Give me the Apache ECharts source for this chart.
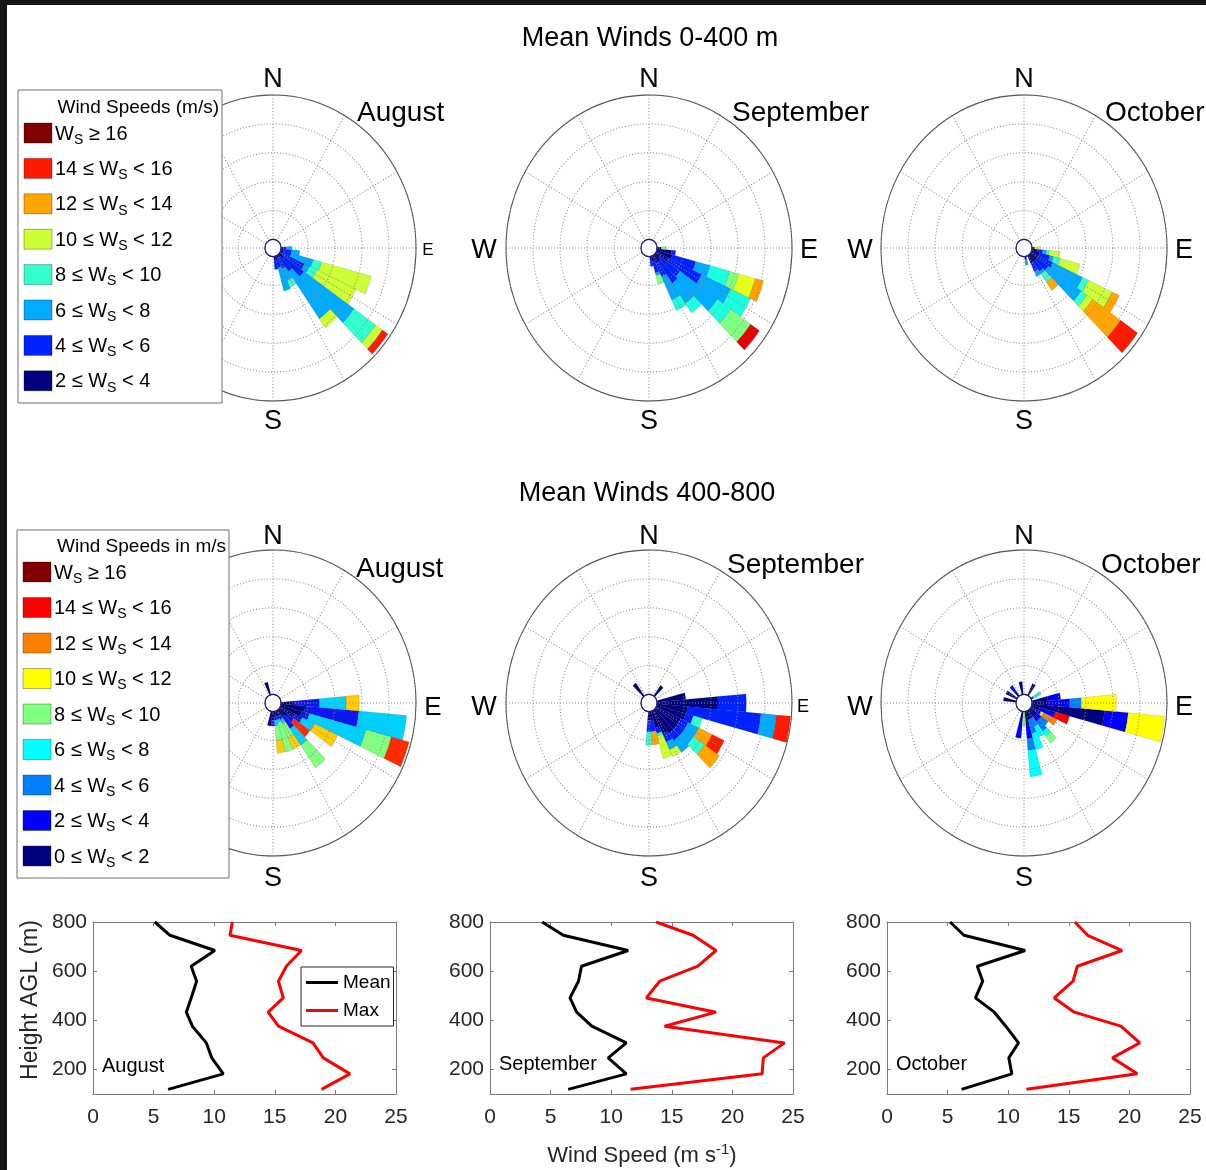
<!DOCTYPE html>
<html>
<head>
<meta charset="utf-8">
<script src="https://cdn.jsdelivr.net/npm/echarts@6/dist/echarts.min.js"></script>
<style>
  html, body { margin: 0; padding: 0; width: 1206px; height: 1170px; overflow: hidden; background: #151515; }
  #paper { position: absolute; left: 7px; top: 5px; right: 0; bottom: 0; background: #fff; }
  .row { position: absolute; left: 0; width: 1206px; height: 330px; transform: scaleY(1.07); transform-origin: 50% 50%; }
  #main { position: absolute; left: 0; top: 0; width: 1206px; height: 1170px; }
</style>
</head>
<body>
<div id="paper"></div>
<div id="row1" class="row" style="top:83px"></div>
<div id="row2" class="row" style="top:538px"></div>
<div id="main"></div>
<script>
  var FONT = '"Liberation Sans", Arial, Helvetica, sans-serif';

  // direction bins (deg from north, clockwise)
  var dirs = ['0', '10', '20', '30', '40', '50', '60', '70', '80', '90', '100', '110',
    '120', '130', '140', '150', '160', '170', '180', '190', '200', '210', '220', '230',
    '240', '250', '260', '270', '280', '290', '300', '310', '320', '330', '340', '350'];

  // wind roses: [direction, [length of each speed class, slowest first]] in ring units
  var aug1 = [[90, [0.1, 0.1, 0.2]], [100, [0.1, 0.3, 0.3]],
    [110, [0.1, 0.3, 0.85, 0.32, 1.9]], [120, [0.1, 0.9, 0.2, 0.3, 1.6]],
    [130, [0.2, 0.9, 2.27, 0.98, 0.3, 0, 0.25]], [140, [0.1, 0.6, 2.0, 0, 0.37]],
    [150, [0.1, 0.4, 0.45, 0.25]], [160, [0.1, 0.3, 0.85]], [170, [0.1, 0.35]]];
  var sep1 = [[90, [0.15, 0, 0, 0, 0.2]], [100, [0.55, 0.15]],
    [110, [0.6, 0.9, 0.55, 0.75, 0.34, 0.64, 0.32]], [120, [0.5, 1.35, 1.2, 0.8]],
    [130, [0.2, 0.9, 1.7, 0.6, 0.9, 0, 0, 0.4]], [140, [0.3, 0.9, 0.85, 0.4]],
    [150, [0.3, 0.5, 0.9, 0.4]], [160, [0.2, 0.4, 0.1, 0, 0.3]], [170, [0.1, 0.25]]];
  var oct1 = [[90, [0.1, 0, 0, 0, 0.2]], [100, [0.2, 0.2, 0.15, 0.1, 0.4]],
    [110, [0.3, 0.4, 0.15, 0.25, 0.75]], [120, [0.3, 0.6, 1.2, 0.25, 0.95, 0.3]],
    [130, [0.3, 0.5, 1.5, 0.25, 0.25, 1.27, 0.77]], [140, [0.3, 0.4, 0.1, 0.35, 0, 0.35]],
    [150, [0.3, 0.3, 0.2]], [170, [0.1, 0, 0.2]]];
  var aug2 = [[340, [0.46]], [90, [0.5, 0.93, 0.99, 0, 0.48]], [100, [0.9, 2.0, 1.77]],
    [110, [0.8, 0.3, 2.17, 0.97, 0, 0.68]], [120, [0.6, 0.3, 0.5, 0, 0.95]],
    [130, [0.35, 0.3, 0, 0, 0, 0.72]], [140, [0.3, 0.5, 0.7, 0.95]],
    [150, [0.2, 0.15, 0.15, 0.54, 0.44]], [160, [0.2, 0.1, 0.1, 1.07]],
    [170, [0.15, 0.15, 0.2, 0.52, 0.43]], [180, [0.3, 0.2]], [190, [0.5]]];
  var sep2 = [[320, [0.55]], [40, [0.45]], [80, [1.07]], [90, [2.26, 1.05]],
    [100, [1.13, 2.74, 0.57, 0, 0, 0, 0.53]], [110, [1.1, 0.3, 0, 0.35]],
    [120, [1.0, 0.3, 0.44, 0, 0, 0.54, 0.5]], [130, [1.0, 0.3, 0.42, 0.5, 0, 0.67]],
    [140, [1.0, 0.3, 0.5]], [150, [0.9, 0.3, 0.3, 0, 0.26]], [160, [0.6, 0.2, 0, 0.1, 0.8]],
    [170, [0.3, 0.4, 0, 0, 0, 0.46]], [180, [0.3, 0.4, 0, 0.46]]];
  var oct2 = [[280, [0.47]], [300, [0.45]], [320, [0.2, 0.25]], [350, [0.45]], [30, [0.45]],
    [60, [0.1, 0, 0, 0.3]], [80, [0.6, 0.47]], [90, [0.6, 0.8, 0.43, 0, 0, 1.3]],
    [100, [2.7, 0.88, 0, 0, 0, 1.35]], [110, [0.3, 0.6, 0, 0, 0, 0, 0, 0.55]],
    [120, [0.2, 0.2, 0, 0, 0, 0.1, 0.55]], [130, [0.3, 0.2, 0.3]],
    [140, [0.3, 0.2, 0.4, 0.2, 0.3]], [150, [0.3, 0, 0.3, 0.4]], [160, [0.3, 0, 0.5, 0.58]],
    [170, [0.5, 0.45, 0.4, 0.92]], [180, [0, 0, 0, 0, 0.5]], [190, [0.3, 0.63]]];

  // speed-class colours used by each rose
  var jet8 = ['#000080', '#0022ff', '#00aaff', '#33ffcc', '#ccff33', '#ffa500', '#ff1a00', '#800000'];
  var sep1Colors = ['#000080', '#0022ff', '#00aaff', '#1affe0', '#80ff80', '#e6ff1a', '#ffa000', '#e60000'];
  var aug2Colors = ['#000078', '#0a18f0', '#00d0ff', '#80ff80', '#ffcc00', '#ff2a00'];
  var oct2Colors = ['#000080', '#0000ff', '#0080ff', '#00ffff', '#80ff80', '#ffff00', '#ff8000', '#ff0000'];

  // legends
  var classes1 = ['W{s|S} ≥ 16', '14 ≤ W{s|S} < 16', '12 ≤ W{s|S} < 14', '10 ≤ W{s|S} < 12',
    '8 ≤ W{s|S} < 10', '6 ≤ W{s|S} < 8', '4 ≤ W{s|S} < 6', '2 ≤ W{s|S} < 4'];
  var classColors1 = ['#800000', '#ff1a00', '#ffa500', '#ccff33', '#33ffcc', '#00aaff', '#0022ff', '#000080'];
  var classes2 = ['W{s|S} ≥ 16', '14 ≤ W{s|S} < 16', '12 ≤ W{s|S} < 14', '10 ≤ W{s|S} < 12',
    '8 ≤ W{s|S} < 10', '6 ≤ W{s|S} < 8', '4 ≤ W{s|S} < 6', '2 ≤ W{s|S} < 4', '0 ≤ W{s|S} < 2'];
  var classColors2 = ['#800000', '#ff0000', '#ff8000', '#ffff00', '#80ff80', '#00ffff', '#0080ff', '#0000ff', '#000080'];

  // vertical profiles
  var heights = [800, 746, 684, 620, 559, 491, 433, 376, 308, 247, 182, 119];
  var augMean = [5.1, 6.35, 10.05, 8.1, 8.55, 8.1, 7.7, 8.2, 9.35, 9.8, 10.75, 6.2];
  var augMax = [11.5, 11.3, 17.2, 15.95, 15.3, 15.7, 14.45, 15.3, 18.15, 19.0, 21.2, 18.85];
  var sepMean = [4.3, 6.05, 11.4, 7.55, 7.3, 6.6, 7.15, 8.4, 11.25, 9.75, 11.25, 6.45];
  var sepMax = [13.7, 16.75, 18.65, 17.15, 14.0, 12.9, 18.65, 14.4, 24.3, 22.55, 22.45, 11.6];
  var octMean = [5.2, 6.35, 11.4, 7.45, 7.9, 7.3, 8.85, 9.8, 10.85, 10.05, 10.3, 6.15];
  var octMax = [15.5, 16.55, 19.4, 15.7, 15.35, 13.8, 15.45, 19.3, 20.85, 18.6, 20.65, 11.5];

  var roseX = [273, 649, 1024];

  function classData(list, k) {
    var out = dirs.map(function () { return null; });
    list.forEach(function (b) {
      var v = b[1][k];
      if (v) out[dirs.indexOf(String(b[0]))] = v;
    });
    return out;
  }

  function roseOption(roses) {
    var polar = [], angleAxis = [], radiusAxis = [], series = [];
    roses.forEach(function (r, i) {
      var c = [roseX[i], 165];
      var g = i * 3;
      polar.push({ center: c, radius: [8, 143] }, { center: c, radius: [8, 143] }, { center: c, radius: [0, 8] });
      // dotted grid, drawn over the bars as in the original
      angleAxis.push({
        polarIndex: g, type: 'value', min: 0, max: 360, interval: 30, startAngle: 90, z: 3,
        axisLine: { show: true, lineStyle: { color: '#555', width: 1 } },
        axisTick: { show: false }, axisLabel: { show: false },
        splitLine: { show: true, lineStyle: { color: '#8c8c8c', width: 1, type: [1, 2] } }
      });
      radiusAxis.push({
        polarIndex: g, type: 'value', min: 0, max: 5, interval: 1, z: 3,
        axisLine: { show: false }, axisTick: { show: false }, axisLabel: { show: false },
        splitLine: { show: true, lineStyle: { color: '#8c8c8c', width: 1, type: [1, 2] } }
      });
      angleAxis.push({
        polarIndex: g + 1, type: 'category', data: dirs, startAngle: 95,
        axisLine: { show: false }, axisTick: { show: false }, axisLabel: { show: false }, splitLine: { show: false }
      });
      radiusAxis.push({ polarIndex: g + 1, type: 'value', min: 0, max: 5, show: false });
      angleAxis.push({
        polarIndex: g + 2, type: 'value', min: 0, max: 360, z: 4,
        axisLine: { show: true, lineStyle: { color: '#1c1c7a', width: 1 } },
        axisTick: { show: false }, axisLabel: { show: false }, splitLine: { show: false }
      });
      radiusAxis.push({ polarIndex: g + 2, type: 'value', min: 0, max: 1, show: false });

      r.colors.forEach(function (col, k) {
        series.push({
          type: 'bar', coordinateSystem: 'polar', polarIndex: g + 1, stack: 'rose' + i,
          barCategoryGap: '0%', silent: true,
          data: classData(r.data, k),
          itemStyle: { color: col, borderColor: 'rgba(0,0,0,0.22)', borderWidth: 0.5 }
        });
      });
    });
    return { animation: false, polar: polar, angleAxis: angleAxis, radiusAxis: radiusAxis, series: series };
  }

  var row1 = echarts.init(document.getElementById('row1'), null, { renderer: 'svg' });
  row1.setOption(roseOption([
    { data: aug1, colors: jet8 }, { data: sep1, colors: sep1Colors }, { data: oct1, colors: jet8 }
  ]));
  var row2 = echarts.init(document.getElementById('row2'), null, { renderer: 'svg' });
  row2.setOption(roseOption([
    { data: aug2, colors: aug2Colors }, { data: sep2, colors: jet8.slice(0, 7) }, { data: oct2, colors: oct2Colors }
  ]));

  // ---------- main layer: profiles, legends, labels ----------
  var gridLeft = [93, 490, 887];
  var profiles = [[augMean, augMax], [sepMean, sepMax], [octMean, octMax]];
  var yTicks = [200, 400, 600, 800];
  var axisGray = '#7a7a7a';

  var grid = [], xAxis = [], yAxis = [], series = [];
  gridLeft.forEach(function (l) {
    grid.push({ left: l, top: 922, width: 303, height: 172 });
  });
  [false, true].forEach(function (second) {
    gridLeft.forEach(function (l, i) {
      xAxis.push({
        gridIndex: i, type: 'value', min: 0, max: 25, interval: 5, position: second ? 'top' : 'bottom',
        axisLine: { show: true, onZero: false, lineStyle: { color: axisGray, width: 1 } },
        axisTick: { show: true, inside: true, length: 4, lineStyle: { color: axisGray } },
        axisLabel: { show: !second, fontSize: 21, color: '#262626', margin: 13, fontFamily: FONT },
        splitLine: { show: false }
      });
      yAxis.push({
        gridIndex: i, type: 'value', min: 100, max: 800, position: second ? 'right' : 'left',
        axisLine: { show: true, onZero: false, lineStyle: { color: axisGray, width: 1 } },
        axisTick: { show: true, inside: true, length: 4, customValues: yTicks, lineStyle: { color: axisGray } },
        axisLabel: {
          show: !second, customValues: yTicks, fontSize: 21, color: '#262626', margin: 6,
          padding: [5, 0, 0, 0], fontFamily: FONT
        },
        splitLine: { show: false }
      });
    });
  });
  profiles.forEach(function (p, i) {
    series.push({
      type: 'line', name: 'Mean', xAxisIndex: i, yAxisIndex: i, symbol: 'none', silent: true,
      data: heights.map(function (h, j) { return [p[0][j], h]; }),
      lineStyle: { color: '#000', width: 3 }, itemStyle: { color: '#000' }
    });
    series.push({
      type: 'line', name: 'Max', xAxisIndex: i, yAxisIndex: i, symbol: 'none', silent: true,
      data: heights.map(function (h, j) { return [p[1][j], h]; }),
      lineStyle: { color: '#ff0000', width: 3 }, itemStyle: { color: '#ff0000' }
    });
  });

  function txt(s, x, y, size, opts) {
    opts = opts || {};
    return {
      type: 'text', x: x, y: y, rotation: opts.rotation || 0, silent: true, z: 10,
      style: {
        text: s, fill: opts.color || '#000', fontSize: size, fontFamily: FONT,
        align: opts.align || 'center', verticalAlign: 'middle', rich: opts.rich
      }
    };
  }

  var subRich = { s: { fontSize: 14, fontFamily: FONT, padding: [12, 0, 0, 0] } };
  function legendBlock(box, title, titleX, labels, colors, firstY, step, swX) {
    var els = [{
      type: 'rect', silent: true, z: 9, shape: box,
      style: { fill: '#fff', stroke: '#6e6e6e', lineWidth: 1 }
    }];
    els.push(txt(title, titleX, firstY - 25, 19, { align: 'right' }));
    labels.forEach(function (lab, i) {
      var y = firstY + i * step;
      els.push({
        type: 'rect', silent: true, z: 10,
        shape: { x: swX, y: y - 10, width: 28, height: 20 },
        style: { fill: colors[i], stroke: 'rgba(0,0,0,0.3)', lineWidth: 1 }
      });
      els.push(txt(lab, swX + 31, y + 1, 20, { align: 'left', rich: subRich }));
    });
    return els;
  }

  var graphic = [];
  graphic = graphic.concat(legendBlock({ x: 18, y: 90, width: 204, height: 313 }, 'Wind Speeds (m/s)', 219,
    classes1, classColors1, 133, 35.4, 24));
  graphic = graphic.concat(legendBlock({ x: 17, y: 530, width: 212, height: 348 }, 'Wind Speeds in m/s', 226,
    classes2, classColors2, 572, 35.5, 23));

  graphic.push(txt('Mean Winds 0-400 m', 650, 39, 27));
  graphic.push(txt('Mean Winds 400-800', 647, 494, 27));

  var compass = [
    ['N', 273, 80, 27], ['N', 649, 80, 27], ['N', 1024, 80, 27],
    ['S', 273, 422, 27], ['S', 649, 422, 27], ['S', 1024, 422, 27],
    ['E', 428, 250, 17], ['E', 809, 251, 27], ['E', 1184, 251, 27],
    ['W', 484, 251, 27], ['W', 860, 251, 27],
    ['N', 273, 537, 27], ['N', 649, 537, 27], ['N', 1024, 537, 27],
    ['S', 273, 879, 27], ['S', 649, 879, 27], ['S', 1024, 879, 27],
    ['E', 433, 708, 26], ['E', 803, 707, 18], ['E', 1184, 708, 27],
    ['W', 484, 708, 27], ['W', 860, 708, 27]
  ];
  compass.forEach(function (c) { graphic.push(txt(c[0], c[1], c[2], c[3])); });

  var months = [['August', 357, 113], ['September', 732, 113], ['October', 1105, 113],
    ['August', 356, 569], ['September', 727, 565], ['October', 1101, 565]];
  months.forEach(function (m) { graphic.push(txt(m[0], m[1], m[2], 28, { align: 'left' })); });

  var profileNames = [['August', 102, 1066], ['September', 499, 1064], ['October', 896, 1064]];
  profileNames.forEach(function (m) { graphic.push(txt(m[0], m[1], m[2], 20, { align: 'left' })); });

  graphic.push(txt('Height AGL (m)', 31, 1000, 23, { rotation: Math.PI / 2, color: '#262626' }));
  graphic.push(txt('Wind Speed (m s{sup|-1})', 642, 1156, 22, {
    color: '#262626',
    rich: { sup: { fontSize: 15, fontFamily: FONT, fill: '#262626', padding: [0, 0, 12, 0] } }
  }));

  var main = echarts.init(document.getElementById('main'));
  main.setOption({
    animation: false,
    textStyle: { fontFamily: FONT },
    grid: grid,
    xAxis: xAxis,
    yAxis: yAxis,
    legend: {
      data: ['Mean', 'Max'], orient: 'vertical', left: 301, top: 967,
      icon: 'rect', itemWidth: 32, itemHeight: 3, itemGap: 9, padding: [6, 3, 6, 5],
      borderColor: '#262626', borderWidth: 1, backgroundColor: '#fff',
      selectedMode: false,
      textStyle: { fontSize: 19, color: '#000', fontFamily: FONT, padding: [0, 0, 0, 0] }
    },
    series: series,
    graphic: graphic
  });
</script>
</body>
</html>
